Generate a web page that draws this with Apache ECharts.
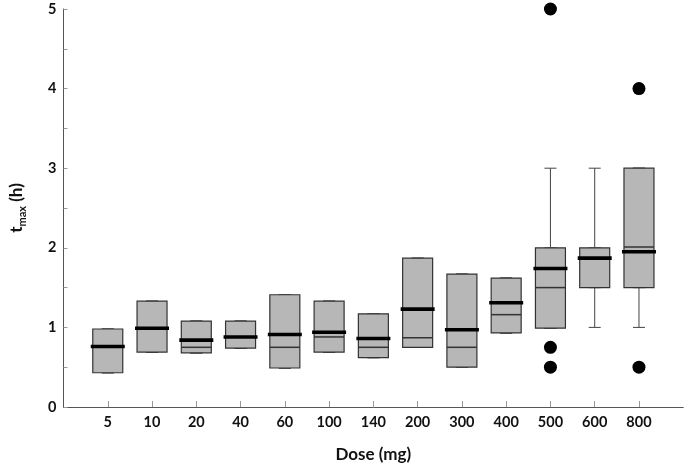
<!DOCTYPE html>
<html>
<head>
<meta charset="utf-8">
<script src="https://cdn.jsdelivr.net/npm/echarts@6/dist/echarts.min.js"></script>
<style>html,body{margin:0;padding:0;background:#fff}#c{width:688px;height:468px}</style>
</head>
<body>
<div id="c"></div>
<script>
const categories = ['', '5', '10', '20', '40', '60', '100', '140', '200', '300', '400', '500', '600', '800', ' '];
const doses = ['5', '10', '20', '40', '60', '100', '140', '200', '300', '400', '500', '600', '800'];
const q1 = [0.43, 0.69, 0.68, 0.74, 0.49, 0.69, 0.62, 0.75, 0.50, 0.93, 0.99, 1.50, 1.50];
const median = [0.76, 0.99, 0.84, 0.88, 0.91, 0.94, 0.86, 1.23, 0.97, 1.31, 1.74, 1.87, 1.95];
const q3 = [0.98, 1.33, 1.08, 1.08, 1.41, 1.33, 1.17, 1.87, 1.67, 1.62, 2.00, 2.00, 3.00];
const meanLine = [null, null, 0.75, null, 0.75, 0.88, 0.75, 0.87, 0.75, 1.16, 1.50, null, 2.01];
const whiskerLow = [0.43, 0.69, 0.68, 0.74, 0.49, 0.69, 0.62, 0.75, 0.50, 0.93, 0.99, 1.00, 1.00];
const whiskerHigh = [0.98, 1.33, 1.08, 1.08, 1.41, 1.33, 1.17, 1.87, 1.67, 1.62, 3.00, 3.00, 3.00];
const outlierDose = ['500', '500', '500', '800', '800'];
const outlierValue = [5.0, 0.75, 0.5, 4.0, 0.5];
const yTicks = [0, 1, 2, 3, 4, 5];

const FONT = 'Lato';
const boxData = doses.map((d, i) => [categories.indexOf(d), q1[i], q1[i], median[i], q3[i], q3[i]]);
const whiskerData = doses.map((d, i) => [categories.indexOf(d), whiskerLow[i], q1[i], q1[i], q3[i], whiskerHigh[i]]);
const medianData = doses.map((d, i) => [d, median[i]]);
const meanData = doses.map((d, i) => meanLine[i] == null ? null : [d, meanLine[i]]).filter(v => v);
const outlierData = outlierDose.map((d, i) => [d, outlierValue[i]]);

const chart = echarts.init(document.getElementById('c'), null, {renderer: 'canvas'});
chart.setOption({
  animation: false,
  backgroundColor: '#fff',
  grid: {left: 57, right: 0, top: 9, bottom: 58},
  xAxis: [{
    type: 'category',
    data: categories,
    boundaryGap: false,
    name: 'Dose (mg)',
    nameLocation: 'middle',
    nameGap: 39,
    nameTextStyle: {fontFamily: FONT, fontWeight: 'bold', fontSize: 17, color: '#111'},
    axisLine: {lineStyle: {color: '#555', width: 1}},
    axisTick: {inside: true, length: 6, lineStyle: {color: '#999'}, interval: (idx, val) => val.trim() !== ''},
    axisLabel: {interval: 0, margin: 8, fontFamily: FONT, fontWeight: 'bold', fontSize: 14.5, color: '#111'},
    splitLine: {show: false}
  }, {
    type: 'category',
    data: categories,
    boundaryGap: false,
    show: false
  }],
  yAxis: {
    type: 'value',
    min: yTicks[0],
    max: yTicks[yTicks.length - 1],
    interval: 1,
    name: '{t|t}{s|max}{h| (h)}',
    nameLocation: 'middle',
    nameGap: 36,
    nameTextStyle: {
      rich: {
        t: {fontFamily: FONT, fontWeight: 'bold', fontSize: 17, color: '#111', lineHeight: 22, verticalAlign: 'middle'},
        s: {fontFamily: FONT, fontWeight: 'bold', fontSize: 11, color: '#111', lineHeight: 22, verticalAlign: 'bottom'},
        h: {fontFamily: FONT, fontWeight: 'bold', fontSize: 17, color: '#111', lineHeight: 22, verticalAlign: 'middle'}
      }
    },
    axisLine: {show: true, lineStyle: {color: '#555', width: 1}},
    axisTick: {show: true, inside: true, length: 4, lineStyle: {color: '#999'}},
    minorTick: {show: true, splitNumber: 2, length: 4, lineStyle: {color: '#999'}},
    axisLabel: {margin: 7, fontFamily: FONT, fontWeight: 'bold', fontSize: 14.5, color: '#111'},
    splitLine: {show: false}
  },
  series: [{
    type: 'boxplot',
    name: 'whiskers',
    xAxisIndex: 1,
    encode: {x: 0, y: [1, 2, 3, 4, 5]},
    boxWidth: [12, 12],
    data: whiskerData,
    z: 1,
    itemStyle: {color: '#fff', borderColor: '#444', borderWidth: 1}
  }, {
    type: 'boxplot',
    name: 'box',
    xAxisIndex: 0,
    encode: {x: 0, y: [1, 2, 3, 4, 5]},
    boxWidth: [30, 30],
    data: boxData,
    z: 2,
    itemStyle: {color: '#b7b7b7', borderColor: '#333', borderWidth: 1.2}
  }, {
    type: 'scatter',
    name: 'mean',
    data: meanData,
    symbol: 'rect',
    symbolSize: [30, 1.5],
    z: 3,
    itemStyle: {color: '#333', opacity: 1}
  }, {
    type: 'scatter',
    name: 'median',
    data: medianData,
    symbol: 'rect',
    symbolSize: [34, 3.6],
    z: 4,
    itemStyle: {color: '#000', opacity: 1}
  }, {
    type: 'scatter',
    name: 'outliers',
    data: outlierData,
    symbol: 'circle',
    symbolSize: 13,
    z: 5,
    itemStyle: {color: '#000', opacity: 1}
  }]
});
</script>
</body>
</html>
